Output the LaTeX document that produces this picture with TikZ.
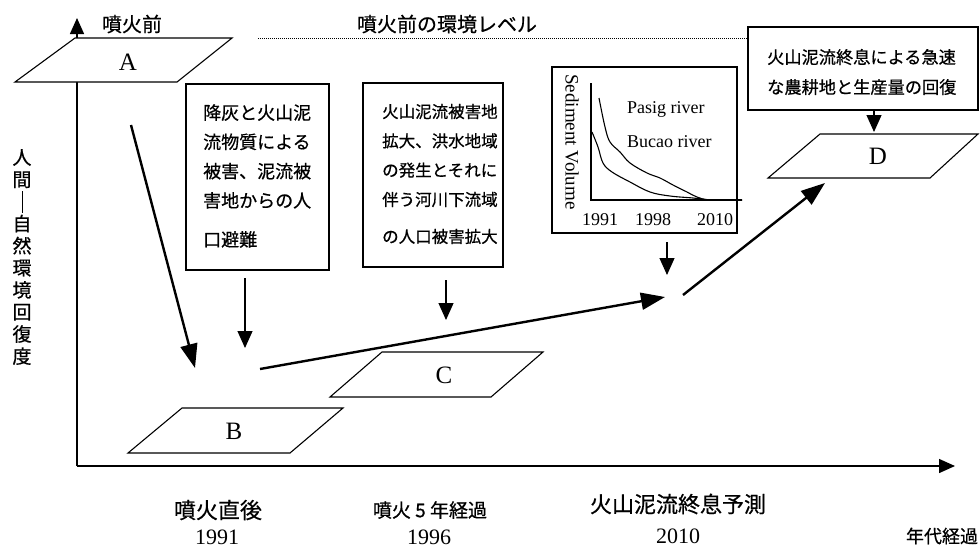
\documentclass[tikz,border=0pt]{standalone}
\usepackage{fontspec}
\setmainfont{Liberation Serif}
\newfontfamily\jp[FakeBold=0.6]{Noto Sans CJK JP}
\usetikzlibrary{arrows.meta}
\begin{document}
\begin{tikzpicture}[x=1pt,y=-1pt,
  box/.style={draw, line width=1.1pt, inner sep=0pt},
  plane/.style={draw, line width=1.1pt, fill=white, line join=miter},
  axisline/.style={line width=1.4pt, -{Triangle[width=14pt,length=16pt]}},
  bigarrow/.style={line width=2.4pt, -{Triangle[width=17pt,length=24pt]}},
  smallarrow/.style={line width=1.1pt, -{Triangle[width=15pt,length=17pt]}},
  letter/.style={font=\fontsize{25}{25}\selectfont, inner sep=0pt},
  gtext/.style={font=\fontsize{18}{18}\selectfont, inner sep=0pt},
  year/.style={font=\fontsize{22}{22}\selectfont, inner sep=0pt},
  jptext/.style={font=\jp\fontsize{#1}{#1}\selectfont, inner sep=0pt},
  boxtext/.style={anchor=west, align=left, inner sep=0pt}
]
\useasboundingbox (0,0) rectangle (980,550);

% axes
\coordinate (O) at (77,466);
\coordinate (ytip) at (77,18);
\coordinate (xtip) at (955,466);
\draw[axisline] (O) -- (ytip);
\draw[axisline] (O) -- (xtip);

% dotted level line
\coordinate (dl) at (258,38);
\coordinate (dr) at (748,38);
\draw[densely dotted, line width=1pt] (dl) -- (dr);

% parallelograms
\draw[plane] (75,38) -- (232,38) -- (177,82) -- (15,82) -- cycle;
\node[letter] (A) at (128,62) {A};
\draw[plane] (182,408) -- (343,408) -- (290,453) -- (128,453) -- cycle;
\node[letter] (B) at (234,431) {B};
\draw[plane] (382,352) -- (543,352) -- (491,397) -- (330,397) -- cycle;
\node[letter] (C) at (444,375) {C};
\draw[plane] (820,134) -- (978,134) -- (930,178) -- (768,178) -- cycle;
\node[letter] (D) at (878,156) {D};

% text boxes
\node[box, minimum width=143pt, minimum height=186pt] (b1) at (257.5,177) {};
\node[boxtext, font=\jp\fontsize{18}{29.3}\selectfont] (t1) at (203,176)
  {降灰と火山泥\\流物質による\\被害、泥流被\\害地からの人\\[9.7pt]口避難};

\node[box, minimum width=140pt, minimum height=184pt] (b2) at (433,175) {};
\node[boxtext, font=\jp\fontsize{16.5}{29.3}\selectfont] (t2) at (382,174)
  {火山泥流被害地\\拡大、洪水地域\\の発生とそれに\\伴う河川下流域\\[7.7pt]の人口被害拡大};

\node[box, minimum width=230pt, minimum height=83pt] (bd) at (863,68.5) {};
\node[boxtext, font=\jp\fontsize{17.2}{30}\selectfont] (td) at (767,72)
  {火山泥流終息による急速\\な農耕地と生産量の回復};

% graph box
\node[box, minimum width=185pt, minimum height=166pt] (g) at (644.5,150) {};
\draw[line width=1.1pt] (591,83) -- (591,200) -- (742,200);
\draw[line width=1.1pt] plot[smooth, tension=0.6] coordinates
  {(599,98) (605,127) (610,142) (620,152) (630,163) (647,173) (660,178) (673,185) (687,192) (697,197) (710,200) (742,200)};
\draw[line width=1.1pt] plot[smooth, tension=0.6] coordinates
  {(592,132) (598,147) (603,163) (612,172) (630,182) (650,192) (670,196) (693,198) (713,200) (742,200)};
\node[gtext, anchor=west] (pasig) at (627,109) {Pasig river};
\node[gtext, anchor=west] (bucao) at (627,142) {Bucao river};
\node[gtext, rotate=-90, font=\fontsize{19}{19}\selectfont] (sv) at (572,142) {Sediment Volume};
\node[gtext] (g91) at (600,220) {1991};
\node[gtext] (g98) at (653,220) {1998};
\node[gtext] (g10) at (715,220) {2010};

% thick arrows
\coordinate (a1s) at (131,125);
\coordinate (a1e) at (195,368);
\coordinate (a2s) at (260,369);
\coordinate (a2e) at (665,297);
\coordinate (a3s) at (683,295);
\coordinate (a3e) at (825,183);
\draw[bigarrow] (a1s) -- (a1e);
\draw[bigarrow] (a2s) -- (a2e);
\draw[bigarrow] (a3s) -- (a3e);

% thin arrows
\coordinate (s1s) at (245,278);
\coordinate (s1e) at (245,348);
\coordinate (s2s) at (446,280);
\coordinate (s2e) at (446,320);
\coordinate (s3s) at (667,242);
\coordinate (s3e) at (667,275);
\coordinate (s4e) at (874,132);
\draw[smallarrow] (s1s) -- (s1e);
\draw[smallarrow] (s2s) -- (s2e);
\draw[smallarrow] (s3s) -- (s3e);
\draw[smallarrow] (bd.south -| s4e) -- (s4e);

% labels
\node[jptext=20] (pre) at (132,24) {噴火前};
\node[jptext=20] (prelvl) at (447,24) {噴火前の環境レベル};
\node[align=center, inner sep=0pt, font=\jp\fontsize{19}{22.1}\selectfont] (ylab) at (22,257)
  {人\\間\\\rule[-4pt]{0.8pt}{22pt}\\自\\然\\環\\境\\回\\復\\度};

\node[jptext=22] (l1) at (218,510) {噴火直後};
\node[year] (n1) at (217,537) {1991};
\node[jptext=19] (l2) at (430,510) {噴火 5 年経過};
\node[year] (n2) at (429,537) {1996};
\node[jptext=22] (l3) at (678,504) {火山泥流終息予測};
\node[year] (n3) at (678,536) {2010};
\node[jptext=18] (l4) at (942,536) {年代経過};
\end{tikzpicture}
\end{document}
